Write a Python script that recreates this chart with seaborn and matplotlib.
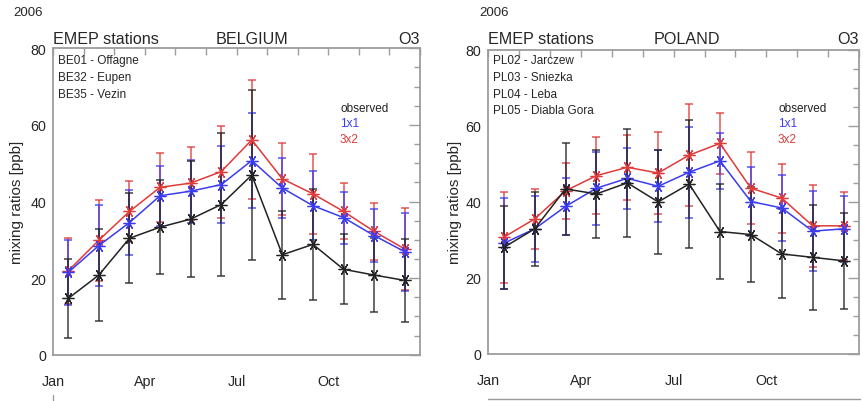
import numpy as np
import pandas as pd
import matplotlib
matplotlib.use("Agg")
import matplotlib.pyplot as plt
from matplotlib import font_manager
from matplotlib.lines import Line2D
import seaborn as sns

# ---------------------------------------------------------------- data
months = ["Jan", "Feb", "Mar", "Apr", "May", "Jun",
          "Jul", "Aug", "Sep", "Oct", "Nov", "Dec"]
tick_months = ["Jan", "Apr", "Jul", "Oct"]
series_names = ["observed", "1x1", "3x2"]

# Belgium: monthly mean O3 and standard deviation [ppb]
be_obs = [14.7, 20.8, 30.4, 33.3, 35.4, 39.2, 46.9, 26.1, 28.8, 22.3, 20.8, 19.4]
be_obs_sd = [10.4, 12.1, 11.8, 12.2, 15.1, 18.7, 22.3, 11.5, 14.4, 9.1, 9.6, 10.8]
be_1x1 = [21.5, 28.5, 34.5, 41.5, 42.7, 44.4, 50.7, 43.5, 38.9, 35.8, 31.1, 26.9]
be_1x1_sd = [8.4, 10.6, 8.4, 7.8, 8.2, 10.0, 12.4, 7.8, 9.0, 6.8, 7.0, 10.2]
be_3x2 = [21.9, 29.9, 37.4, 43.7, 44.8, 47.8, 56.1, 45.9, 42.0, 37.4, 32.2, 27.6]
be_3x2_sd = [8.7, 10.6, 8.0, 9.0, 9.5, 12.0, 15.5, 9.4, 10.5, 7.3, 7.4, 10.8]
be_stations = ["BE01 - Offagne", "BE32 - Eupen", "BE35 - Vezin"]

# Poland: monthly mean O3 and standard deviation [ppb]
pl_obs = [27.9, 32.8, 43.3, 42.0, 44.9, 39.9, 44.6, 32.1, 31.3, 26.2, 25.3, 24.4]
pl_obs_sd = [11.0, 9.8, 12.0, 11.5, 14.3, 13.6, 16.9, 12.5, 12.6, 11.7, 13.8, 12.7]
pl_1x1 = [29.0, 32.8, 38.7, 43.5, 46.1, 44.0, 47.7, 50.7, 40.0, 38.3, 32.2, 32.8]
pl_1x1_sd = [12.0, 8.6, 7.5, 9.6, 8.0, 9.5, 12.0, 7.4, 9.0, 8.7, 10.5, 8.6]
pl_3x2 = [30.6, 35.4, 42.8, 46.8, 49.0, 47.5, 52.2, 55.3, 43.5, 40.9, 33.6, 33.6]
pl_3x2_sd = [12.0, 8.0, 7.3, 10.2, 8.6, 10.7, 13.4, 8.0, 9.5, 9.1, 10.8, 9.0]
pl_stations = ["PL02 - Jarczew", "PL03 - Sniezka", "PL04 - Leba",
               "PL05 - Diabla Gora"]

# ---------------------------------------------------------------- style
sns.set_theme(style="white")


def pick_font(names):
    for n in names:
        try:
            font_manager.findfont(n, fallback_to_default=False)
            return n
        except Exception:
            continue
    return "DejaVu Sans"


narrow = pick_font(["Liberation Sans Narrow", "Liberation Sans", "Arial"])
regular = pick_font(["Liberation Sans", "Arial"])
plt.rcParams["font.family"] = [narrow, "DejaVu Sans"]

W, H = 863, 402
fig = plt.figure(figsize=(W / 100, H / 100), dpi=100)


def fx(x):
    return x / W


def fy(y):
    return 1 - y / H


colors = {"observed": "#222222", "1x1": "#3b3bf0", "3x2": "#e03a3a"}
frame_col = "#9c9c9c"
star = (6, 2, 90)


def month_frame(obs, obs_sd, m11, m11_sd, m32, m32_sd):
    rows = []
    for name, vals, sds in (("observed", obs, obs_sd), ("1x1", m11, m11_sd),
                            ("3x2", m32, m32_sd)):
        for i, (m, v, s) in enumerate(zip(months, vals, sds)):
            rows.append({"series": name, "month": m, "pos": i + 0.5,
                         "value": v, "sd": s})
    return pd.DataFrame(rows)


def draw_panel(rect, df, country, stations, x_year, yl_x, x_title, x_leg):
    left, right, top_px, zero_px = rect
    ax = fig.add_axes([fx(left), fy(zero_px), (right - left) / W,
                       (zero_px - top_px) / H])
    for name in ["3x2", "1x1", "observed"]:
        sub = df[df["series"] == name]
        c = colors[name]
        ax.errorbar(sub["pos"], sub["value"], yerr=sub["sd"], fmt="none",
                    ecolor=c, elinewidth=1.2, capsize=3, capthick=1.2,
                    alpha=0.8, zorder=2)
        sns.lineplot(data=sub, x="pos", y="value", color=c, linewidth=1.1,
                     marker=star, markersize=8.5, mec=c, mew=0.9,
                     sort=False, legend=False, ax=ax, zorder=3)

    ax.set_xlim(0, 12)
    ax.set_ylim(0, 80)
    ax.set_xticks([0, 3, 6, 9])
    ax.set_xticklabels(tick_months)
    ax.set_xticks(range(13), minor=True)
    ax.set_yticks([0, 20, 40, 60, 80])
    ax.set_yticks(range(0, 81, 5), minor=True)
    ax.set_xlabel("")
    ax.set_ylabel("")
    ax.tick_params(axis="both", which="both", direction="in", top=True,
                   right=True, color=frame_col, width=1.0)
    ax.tick_params(axis="x", which="both", length=5, pad=14, labelsize=10.3)
    ax.tick_params(axis="y", which="major", length=8, pad=5, labelsize=10.3)
    ax.tick_params(axis="y", which="minor", length=4)
    for sp in ax.spines.values():
        sp.set_color(frame_col)
        sp.set_linewidth(1.3)

    # headings
    fig.text(fx(x_year), fy(13), "2006", fontsize=9.5, ha="left", va="center")
    fig.text(fx(left), fy(40), "EMEP stations", fontsize=11.6,
             ha="left", va="center")
    fig.text(fx(x_title), fy(40), country, fontsize=11.6,
             ha="center", va="center")
    fig.text(fx(right), fy(40), "O3", fontsize=11.6, ha="right", va="center")

    for k, s in enumerate(stations):
        fig.text(fx(left + 5), fy(61 + 16.8 * k), s, fontsize=8.5,
                 ha="left", va="center")
    for k, name in enumerate(series_names):
        fig.text(fx(x_leg), fy(109 + 15.5 * k), name, fontsize=8.5,
                 color=colors[name], ha="left", va="center")

    fig.text(fx(yl_x), fy(202), "mixing ratios [ppb]", rotation=90,
             fontsize=11, family=[regular, "DejaVu Sans"],
             ha="center", va="center")
    return ax


be_df = month_frame(be_obs, be_obs_sd, be_1x1, be_1x1_sd, be_3x2, be_3x2_sd)
pl_df = month_frame(pl_obs, pl_obs_sd, pl_1x1, pl_1x1_sd, pl_3x2, pl_3x2_sd)

draw_panel((53, 420, 49.3, 355.7), be_df, "BELGIUM", be_stations,
           x_year=13, yl_x=17, x_title=252, x_leg=340)
draw_panel((488.3, 859, 50.5, 354.5), pl_df, "POLAND", pl_stations,
           x_year=479, yl_x=455, x_title=687, x_leg=778)

# edges of the surrounding page frame
fig.add_artist(Line2D([fx(53), fx(53)], [fy(396), fy(402)], color=frame_col,
                      lw=1.0))
fig.add_artist(Line2D([fx(488), fx(860)], [fy(400), fy(400)], color=frame_col,
                      lw=1.0))

fig.savefig("out.png", dpi=100, facecolor="white")
